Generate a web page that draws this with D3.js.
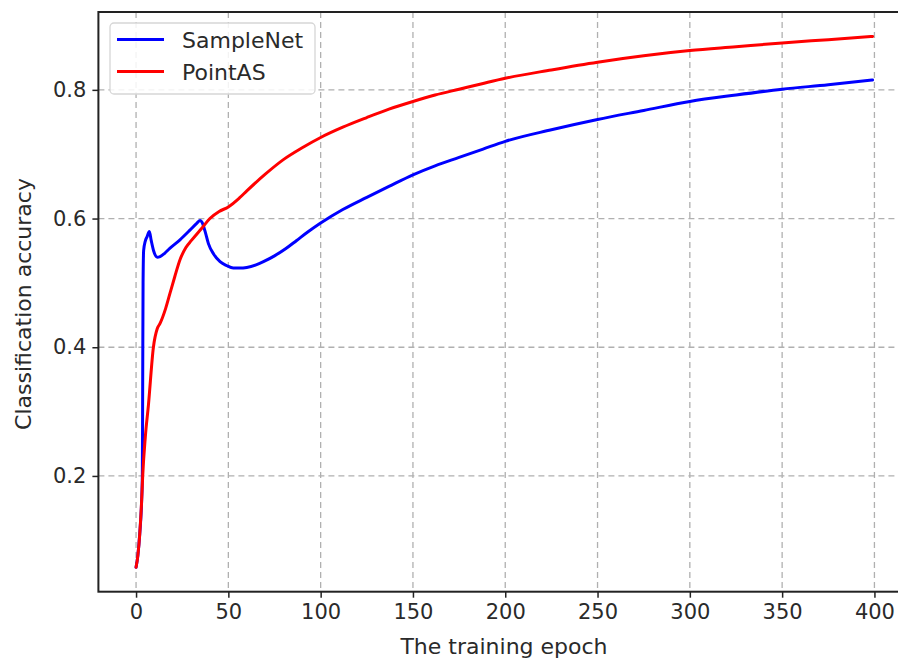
<!DOCTYPE html>
<html>
<head>
<meta charset="utf-8">
<script src="https://cdn.jsdelivr.net/npm/d3@7"></script>
<style>
  html, body { margin: 0; padding: 0; background: #fff; }
  svg { display: block; }
  text { font-family: "DejaVu Sans", sans-serif; }
</style>
</head>
<body>
<svg id="chart" width="898" height="662"></svg>
<script>
// ---- Data ----
const seriesNames = ["SampleNet", "PointAS"];
const seriesColors = ["#0000ff", "#ff0000"];

const sampleNetEpochs = [0, 1, 2, 3, 3.4, 3.6, 3.8, 4.1, 5, 6, 7.2, 8.2, 9.5, 11.5, 13, 15.5, 18.4, 23.8, 29.2, 33, 34.7, 35.8, 37.4, 39.2, 42, 45.5, 49, 52.7, 56, 60, 65, 69, 75, 81, 87, 93, 100, 112, 125, 137, 150, 162, 175, 188, 200, 225, 250, 275, 300, 325, 350, 375, 399];
const sampleNetValues = [0.058, 0.077, 0.11, 0.16, 0.2, 0.35, 0.5, 0.55, 0.565, 0.572, 0.58, 0.566, 0.55, 0.540, 0.541, 0.546, 0.554, 0.567, 0.582, 0.593, 0.597, 0.594, 0.58, 0.561, 0.545, 0.533, 0.527, 0.523, 0.523, 0.524, 0.528, 0.533, 0.542, 0.553, 0.566, 0.579, 0.593, 0.614, 0.633, 0.650, 0.668, 0.682, 0.695, 0.708, 0.720, 0.738, 0.754, 0.768, 0.782, 0.792, 0.801, 0.808, 0.8155];

const pointASEpochs = [0, 1, 2, 3, 3.6, 5, 6.7, 9.4, 11.5, 13, 16, 18.4, 21, 23.8, 27, 30, 35.6, 40, 45, 50, 56, 60, 70, 80, 90, 100, 112, 125, 137, 150, 162, 175, 188, 200, 225, 250, 275, 300, 325, 350, 375, 399];
const pointASValues = [0.058, 0.077, 0.11, 0.16, 0.2, 0.26, 0.31, 0.40, 0.429, 0.437, 0.46, 0.484, 0.51, 0.536, 0.555, 0.566, 0.585, 0.60, 0.611, 0.618, 0.632, 0.643, 0.669, 0.692, 0.71, 0.726, 0.742, 0.757, 0.770, 0.782, 0.792, 0.801, 0.810, 0.818, 0.831, 0.843, 0.853, 0.861, 0.867, 0.873, 0.878, 0.883];

const xTicks = [0, 50, 100, 150, 200, 250, 300, 350, 400];
const yTicks = [0.2, 0.4, 0.6, 0.8];
const xLabel = "The training epoch";
const yLabel = "Classification accuracy";

// ---- Chart ----
const svg = d3.select("#chart");
const W = 898, H = 662;
svg.append("rect").attr("width", W).attr("height", H).attr("fill", "#fff");

const x = d3.scaleLinear().domain([-20.4, 419]).range([98.4, 909.5]);
const y = d3.scaleLinear().domain([0.0201, 0.921]).range([591.7, 12]);

const pLeft = x.range()[0], pRight = x.range()[1];
const pTop = y.range()[1], pBottom = y.range()[0];

// grid
const grid = svg.append("g");
grid.selectAll("line.vg").data(xTicks).enter().append("line")
  .attr("x1", d => x(d)).attr("x2", d => x(d))
  .attr("y1", pTop).attr("y2", pBottom)
  .attr("stroke", "#b0b0b0").attr("stroke-width", 1.3)
  .attr("stroke-dasharray", "6,4");
grid.selectAll("line.hg").data(yTicks).enter().append("line")
  .attr("y1", d => y(d)).attr("y2", d => y(d))
  .attr("x1", pLeft).attr("x2", pRight)
  .attr("stroke", "#b0b0b0").attr("stroke-width", 1.3)
  .attr("stroke-dasharray", "6,4");

// axes
const xAxis = d3.axisBottom(x).tickValues(xTicks).tickSize(6).tickPadding(6).tickFormat(d3.format("d"));
const yAxis = d3.axisLeft(y).tickValues(yTicks).tickSize(6).tickPadding(6).tickFormat(d3.format(".1f"));

const gx = svg.append("g").attr("transform", `translate(0,${pBottom})`).call(xAxis);
const gy = svg.append("g").attr("transform", `translate(${pLeft},0)`).call(yAxis);
[gx, gy].forEach(g => {
  g.select(".domain").remove();
  g.selectAll(".tick line").attr("stroke", "#222").attr("stroke-width", 1.5);
  g.selectAll(".tick text").attr("fill", "#2a2a2a").attr("font-size", 21)
    .attr("font-family", "DejaVu Sans, sans-serif");
});

// lines
const line = d3.line().x(d => x(d[0])).y(d => y(d[1])).curve(d3.curveMonotoneX);
const sampleNetData = d3.zip(sampleNetEpochs, sampleNetValues);
const pointASData = d3.zip(pointASEpochs, pointASValues);

svg.append("path").datum(sampleNetData).attr("d", line)
  .attr("fill", "none").attr("stroke", seriesColors[0]).attr("stroke-width", 3)
  .attr("stroke-linejoin", "round").attr("stroke-linecap", "round");
svg.append("path").datum(pointASData).attr("d", line)
  .attr("fill", "none").attr("stroke", seriesColors[1]).attr("stroke-width", 3)
  .attr("stroke-linejoin", "round").attr("stroke-linecap", "round");

// frame
svg.append("rect").attr("x", pLeft).attr("y", pTop)
  .attr("width", pRight - pLeft).attr("height", pBottom - pTop)
  .attr("fill", "none").attr("stroke", "#222").attr("stroke-width", 2);

// axis labels
svg.append("text").attr("x", 504).attr("y", 654).attr("text-anchor", "middle")
  .attr("font-size", 22).attr("fill", "#2a2a2a").text(xLabel);
svg.append("text").attr("transform", `translate(31,304) rotate(-90)`)
  .attr("text-anchor", "middle").attr("font-size", 22).attr("fill", "#2a2a2a").text(yLabel);

// legend
const lg = svg.append("g");
lg.append("rect").attr("x", 110).attr("y", 23).attr("width", 205).attr("height", 71)
  .attr("rx", 4).attr("fill", "#fff").attr("fill-opacity", 0.85)
  .attr("stroke", "#d6d6d6").attr("stroke-width", 1.3);
seriesNames.forEach((name, i) => {
  const ly = 39.5 + i * 32;
  lg.append("line").attr("x1", 117).attr("x2", 164).attr("y1", ly).attr("y2", ly)
    .attr("stroke", seriesColors[i]).attr("stroke-width", 3);
  lg.append("text").attr("x", 182).attr("y", ly + 8).attr("font-size", 22)
    .attr("fill", "#2a2a2a").text(name);
});
</script>
</body>
</html>
